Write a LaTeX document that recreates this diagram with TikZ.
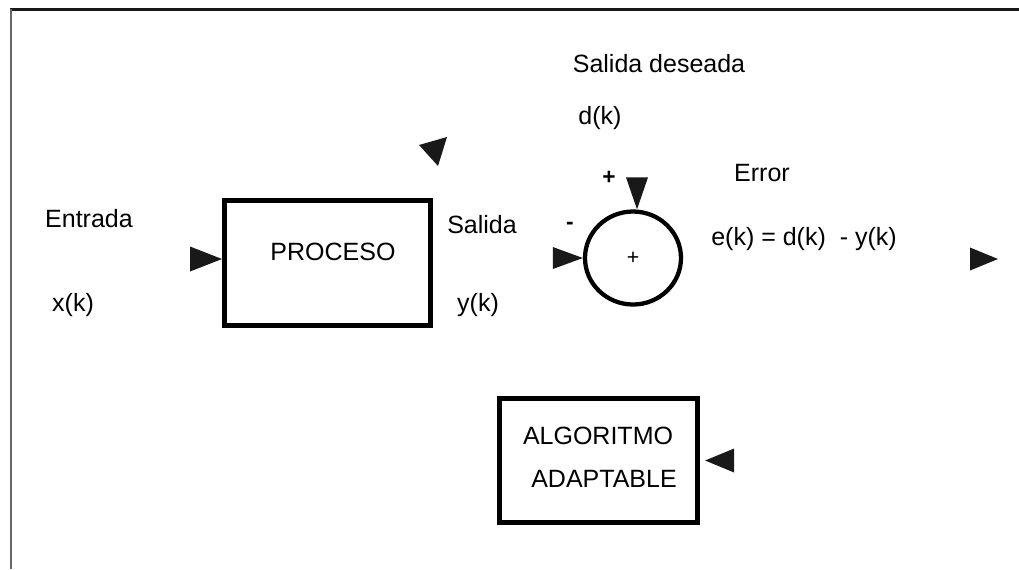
\documentclass[tikz,border=0pt]{standalone}
\usepackage{fontspec}
\setmainfont{Liberation Sans}
\usetikzlibrary{shapes.geometric}

\tikzset{
  block/.style={draw, line width=3.75pt, inner sep=0pt},
  signo/.style={font=\fontsize{17}{19}\selectfont\bfseries},
  punta/.style={fill=black!90},
}

\begin{document}
\begin{tikzpicture}[x=0.75pt,y=-0.75pt,font=\fontsize{18.75}{22}\selectfont]
  \useasboundingbox (0,0) rectangle (1019,569);
  % marco
  \draw[line width=2.25pt, black!90] (10,9.5) -- (1019,9.5);
  \draw[line width=1.5pt, black!60] (11,9) -- (11,569);
  % bloques
  \node[block, minimum width=154.5pt, minimum height=93.75pt] (proceso) at (327.5,263) {};
  \node (procesotxt) at (333,252) {PROCESO};
  \node[block, ellipse, line width=3.2pt, minimum width=72pt, minimum height=69.75pt, font=\fontsize{16}{18}\selectfont] (suma) at (633,258) {+};
  \node[block, line width=3.4pt, minimum width=148.5pt, minimum height=93pt] (algoritmo) at (598.5,460.5) {};
  \node (alg1) at (598,436) {ALGORITMO};
  \node (alg2) at (604,479) {ADAPTABLE};
  % textos
  \node (deseada) at (659,64) {Salida deseada};
  \node (dk) at (600,118) {d(k)};
  \node[signo] (mas) at (609,178) {+};
  \node[signo] (menos) at (570,226) {-};
  \node (error) at (762,173) {Error};
  \node (ek) at (804,239) {e(k) = d(k)\ \ - y(k)};
  \node (entrada) at (89,219) {Entrada};
  \node (xk) at (73,305) {x(k)};
  \node (salidatxt) at (482,225) {Salida};
  \node (yk) at (478,305) {y(k)};
  \coordinate (salida) at (998,259);
  \coordinate (ajuste) at (447,137);
  % puntas de flecha
  \fill[punta] ([yshift=3pt]proceso.west) -- ++(-32,-12.5) -- ++(0,25) -- cycle;
  \fill[punta] (suma.west) -- ++(-30,-11) -- ++(0,22) -- cycle;
  \fill[punta] ([xshift=3pt]suma.north) -- ++(-11,-32) -- ++(22,0) -- cycle;
  \fill[punta] (salida) -- ++(-28,-11.5) -- ++(0,23) -- cycle;
  \fill[punta] ([xshift=4pt]algoritmo.east) -- ++(29,-12) -- ++(0,24) -- cycle;
  \fill[punta] (ajuste) -- ++(-28,8) -- ++(19,21) -- cycle;
\end{tikzpicture}
\end{document}
